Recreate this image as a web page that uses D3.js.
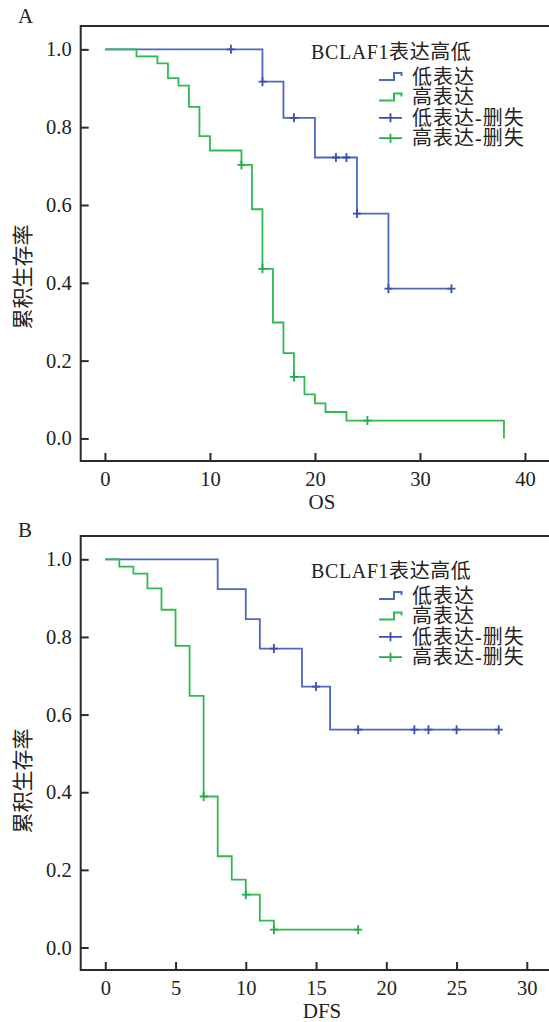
<!DOCTYPE html>
<html>
<head>
<meta charset="utf-8">
<script src="https://cdn.jsdelivr.net/npm/d3@7"></script>
<style>
  html, body { margin: 0; padding: 0; background: #fff; }
  svg { display: block; }
  text { font-family: "Liberation Serif", "Times New Roman", "Noto Sans CJK SC", serif; fill: #222; }
</style>
</head>
<body>
<svg id="chart" width="549" height="1022"></svg>
<script>
// ---- data ----
// OS (panel A)
const osLowEvents = [15, 17, 20, 24, 27];
const osLowSurv = [0.917, 0.824, 0.722, 0.578, 0.385];
const osLowCensor = [12, 15, 18, 22, 23, 24, 27, 33];
const osHighEvents = [3, 5, 6, 7, 8, 9, 10, 13, 14, 15, 16, 17, 18, 19, 20, 21, 23, 38];
const osHighSurv = [0.982, 0.964, 0.926, 0.907, 0.852, 0.777, 0.740, 0.703, 0.589, 0.436,
                    0.298, 0.219, 0.158, 0.113, 0.090, 0.068, 0.046, 0.0];
const osHighCensor = [13, 15, 18, 25];
const osTicks = [0, 10, 20, 30, 40];

// DFS (panel B)
const dfsLowEvents = [8, 10, 11, 14, 16];
const dfsLowSurv = [0.923, 0.846, 0.770, 0.672, 0.561];
const dfsLowCensor = [12, 15, 18, 22, 23, 25, 28];
const dfsHighEvents = [1, 2, 3, 4, 5, 6, 7, 8, 9, 10, 11, 12];
const dfsHighSurv = [0.981, 0.963, 0.925, 0.870, 0.777, 0.648, 0.389, 0.235, 0.175, 0.136, 0.069, 0.046];
const dfsHighCensor = [7, 10, 12, 18];
const dfsTicks = [0, 5, 10, 15, 20, 25, 30];

const survTicks = [0, 0.2, 0.4, 0.6, 0.8, 1.0];
const legendTitle = "BCLAF1表达高低";
const legendLabels = ["低表达", "高表达", "低表达-删失", "高表达-删失"];
const yLabel = "累积生存率";

const serif = "'Liberation Serif', 'Times New Roman', 'Noto Sans CJK SC', serif";
const lowLine = "#4a68c0", lowMark = "#3b4eae";
const highLine = "#2fb94f", highMark = "#20ad45";

const svg = d3.select("#chart");

function survAt(events, surv, t) {
    let s = 1;
    events.forEach((e, i) => { if (e <= t) s = surv[i]; });
    return s;
}

function drawPanel(cfg) {
    const x = d3.scaleLinear().domain(cfg.xDomain).range([80.7, 549]);
    const y = d3.scaleLinear().domain([-0.058, 1.06]).range([cfg.bottom, cfg.top]);
    const g = svg.append("g");

    // frame (top, left, bottom; right side runs off the picture)
    g.append("path")
        .attr("d", `M551,${cfg.top}H80.7V${cfg.bottom}H551`)
        .attr("fill", "none")
        .attr("stroke", "#2a2a2a")
        .attr("stroke-width", 2);

    const yAxis = g.append("g")
        .attr("transform", "translate(80.7,0)")
        .call(d3.axisLeft(y).tickValues(survTicks).tickFormat(d3.format(".1f"))
            .tickSizeInner(-8).tickSizeOuter(0).tickPadding(9));
    const xAxis = g.append("g")
        .attr("transform", `translate(0,${cfg.bottom})`)
        .call(d3.axisBottom(x).tickValues(cfg.xTicks)
            .tickSizeInner(-8).tickSizeOuter(0).tickPadding(10));
    [xAxis, yAxis].forEach(a => {
        a.attr("font-family", serif).attr("font-size", 20);
        a.select(".domain").remove();
        a.selectAll(".tick line").attr("stroke", "#2a2a2a").attr("stroke-width", 2);
        a.selectAll(".tick text")
            .style("font-family", serif)
            .style("font-size", "20.5px")
            .attr("fill", "#222");
    });

    const line = d3.line().x(d => x(d[0])).y(d => y(d[1])).curve(d3.curveStepAfter);

    cfg.series.forEach(s => {
        const pts = [[0, 1]].concat(s.events.map((t, i) => [t, s.surv[i]]));
        const last = d3.max([d3.max(s.events), d3.max(s.censor)]);
        if (last > pts[pts.length - 1][0]) pts.push([last, pts[pts.length - 1][1]]);
        g.append("path")
            .attr("d", line(pts))
            .attr("fill", "none")
            .attr("stroke", s.color)
            .attr("stroke-width", 1.8);
        g.append("g").selectAll("path")
            .data(s.censor)
            .join("path")
            .attr("d", t => {
                const cx = x(t), cy = y(survAt(s.events, s.surv, t));
                return `M${cx - 4},${cy}H${cx + 4}M${cx},${cy - 4.5}V${cy + 4.5}`;
            })
            .attr("stroke", s.mark)
            .attr("stroke-width", 1.8);
    });

    // panel letter and axis titles
    svg.append("text").attr("x", 18).attr("y", cfg.letterY)
        .style("font-size", "21px").text(cfg.letter);
    svg.append("text").attr("x", 322).attr("y", cfg.xLabelY)
        .attr("text-anchor", "middle").style("font-size", "21px").text(cfg.xLabel);
    svg.append("text")
        .attr("transform", `translate(30,${cfg.yLabelY}) rotate(-90)`)
        .attr("text-anchor", "middle")
        .style("font-size", "21px")
        .style("font-family", "'Noto Sans CJK SC', sans-serif")
        .attr("fill", "#333")
        .text(yLabel);

    // legend
    const lg = svg.append("g");
    lg.append("text").attr("x", 311).attr("y", cfg.legendY)
        .attr("dominant-baseline", "central").style("font-size", "20px")
        .style("letter-spacing", "0.6px").text(legendTitle);
    const items = [
        { type: "step", color: lowLine },
        { type: "step", color: highLine },
        { type: "cross", color: lowMark },
        { type: "cross", color: highMark }
    ];
    items.forEach((it, i) => {
        const cy = cfg.legendY + 25 + i * 20.4;
        if (it.type === "step") {
            lg.append("path")
                .attr("d", `M379,${cy + 3}H394V${cy - 4}H401.5V${cy - 1}`)
                .attr("fill", "none").attr("stroke", it.color).attr("stroke-width", 2);
        } else {
            lg.append("path")
                .attr("d", `M379,${cy}H402M390.5,${cy - 4.5}V${cy + 4.5}`)
                .attr("stroke", it.color).attr("stroke-width", 1.8);
        }
        lg.append("text").attr("x", 412).attr("y", cy)
            .attr("dominant-baseline", "central").style("font-size", "20px")
            .style("letter-spacing", "1px")
            .text(legendLabels[i]);
    });
}

drawPanel({
    letter: "A", letterY: 23, top: 26, bottom: 461,
    xDomain: [-2.31, 42.29], xTicks: osTicks, xLabel: "OS", xLabelY: 509,
    yLabelY: 277, legendY: 52,
    series: [
        { events: osLowEvents, surv: osLowSurv, censor: osLowCensor, color: lowLine, mark: lowMark },
        { events: osHighEvents, surv: osHighSurv, censor: osHighCensor, color: highLine, mark: highMark }
    ]
});

drawPanel({
    letter: "B", letterY: 537, top: 536, bottom: 970,
    xDomain: [-1.75, 31.58], xTicks: dfsTicks, xLabel: "DFS", xLabelY: 1018,
    yLabelY: 781, legendY: 571,
    series: [
        { events: dfsLowEvents, surv: dfsLowSurv, censor: dfsLowCensor, color: lowLine, mark: lowMark },
        { events: dfsHighEvents, surv: dfsHighSurv, censor: dfsHighCensor, color: highLine, mark: highMark }
    ]
});
</script>
</body>
</html>
